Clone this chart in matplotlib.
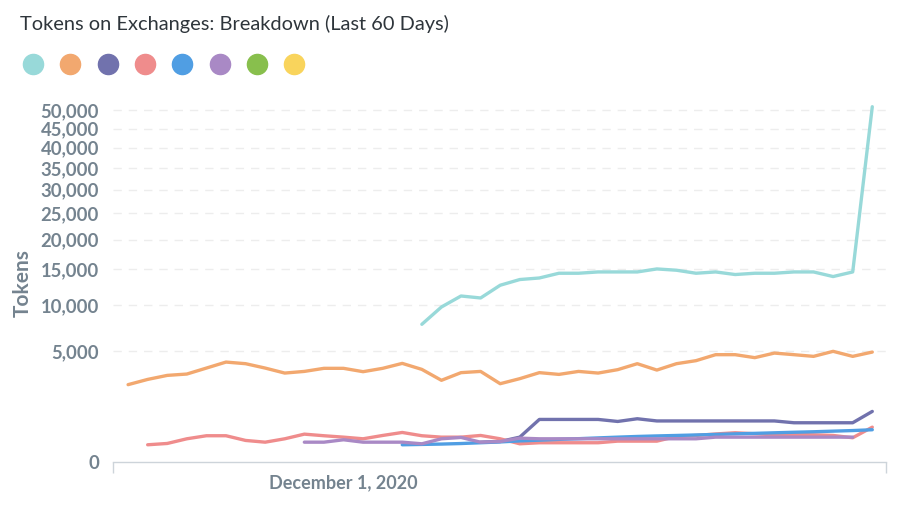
import numpy as np
import pandas as pd
import matplotlib
matplotlib.use("Agg")
import matplotlib.pyplot as plt
import matplotlib.dates as mdates
from matplotlib.lines import Line2D
from matplotlib.ticker import FuncFormatter, FixedLocator

plt.rcParams['font.family'] = ['Lato', 'DejaVu Sans']

# ---- data ----
dates = pd.date_range("2020-11-20", periods=39, freq="D")
nan = np.nan

cyan_vals = [nan] * 15 + [7670, 9720, 11150, 10885, 12640, 13470, 13700, 14415, 14415, 14615,
                          14615, 14615, 15080, 14880, 14415, 14615, 14220, 14415, 14415, 14615,
                          14615, 13915, 14615, 51070]
orange_vals = [2420, 2760, 3035, 3130, 3570, 4040, 3910, 3570, 3200, 3320, 3550, 3550, 3300,
               3550, 3935, 3470, 2700, 3230, 3320, 2480, 2810, 3230, 3105, 3320, 3200, 3450,
               3910, 3420, 3910, 4155, 4660, 4660, 4405, 4800, 4660, 4515, 4955, 4515, 4890]
darkpurple_vals = [nan] * 18 + [159, 170, 250, 733, 733, 733, 733, 665, 757, 682, 682, 682, 682,
                                682, 682, 682, 623, 623, 623, 623, 1035]
red_vals = [nan] + [120, 139, 218, 279, 279, 188, 159, 218, 314, 279, 250, 218, 285, 353, 279,
                    250, 250, 285, 218, 134, 150, 150, 150, 150, 176, 176, 176, 264, 285, 318,
                    346, 323, 300, 307, 300, 285, 238, 491]
blue_vals = [nan] * 14 + [120, 125, 130, 138, 150, 163, 180, 193, 207, 220, 235, 250, 264, 275,
                          285, 296, 307, 320, 332, 345, 358, 370, 385, 400, 421]
purple_vals = [nan] * 9 + [159, 159, 200, 159, 159, 159, 134, 218, 244, 159, 170, 230,
                           218, 218, 218, 218, 218, 218, 218, 218, 218,
                           250, 250, 250, 250, 250, 250, 250, 250] + [nan]
green_vals = [nan] * 39
yellow_vals = [nan] * 39

series = [
    ("Series 1", cyan_vals, "#98D9D9"),
    ("Series 2", orange_vals, "#F2A86F"),
    ("Series 3", darkpurple_vals, "#7172AD"),
    ("Series 4", red_vals, "#EF8C8C"),
    ("Series 5", blue_vals, "#509EE3"),
    ("Series 6", purple_vals, "#A989C5"),
    ("Series 7", green_vals, "#88BF4D"),
    ("Series 8", yellow_vals, "#F9D45C"),
]

y_ticks = [0, 5000, 10000, 15000, 20000, 25000, 30000, 35000, 40000, 45000, 50000]
x_tick_dates = [pd.Timestamp("2020-12-01")]
x_tick_labels = ["December 1, 2020"]

# ---- figure ----
fig = plt.figure(figsize=(9.12, 5.11), dpi=100)
W, H = 912, 511
ax_left, ax_right, ax_bottom, ax_top = 113, 886, 462, 103.5
ax = fig.add_axes([ax_left / W, 1 - ax_bottom / H, (ax_right - ax_left) / W, (ax_bottom - ax_top) / H])

for name, vals, col in series:
    ax.plot(dates, vals, color=col, lw=2.4, solid_joinstyle='round', solid_capstyle='round', label=name)

ax.set_yscale('function', functions=(lambda v: np.sqrt(np.maximum(v, 0)), lambda v: np.square(v)))
ax.set_ylim(0, 52000)
ax.yaxis.set_major_locator(FixedLocator(y_ticks))
ax.yaxis.set_minor_locator(FixedLocator([]))
ax.yaxis.set_major_formatter(FuncFormatter(lambda v, p: f"{int(v):,}"))

x0 = dates[0] - pd.Timedelta(hours=0.77 * 24)
x1 = dates[0] + pd.Timedelta(hours=38.7 * 24)
ax.set_xlim(x0, x1)
ax.set_xticks(x_tick_dates)
ax.set_xticklabels(x_tick_labels)
ax.set_xticks([mdates.date2num(x0), mdates.date2num(x1)], minor=True)

label_col = "#74838F"
ax.tick_params(axis='y', length=0, pad=10, labelsize=13.3, labelcolor=label_col)
ax.tick_params(axis='x', which='major', length=0, pad=9, labelsize=13, labelcolor=label_col)
ax.tick_params(axis='x', which='minor', length=8, width=1, color="#CDD4DA", direction='out')
for lab in ax.get_yticklabels() + ax.get_xticklabels():
    lab.set_fontweight('bold')

for v in y_ticks[1:]:
    ax.axhline(v, color="#EDEDED", lw=1, ls=(0, (6, 5)), zorder=0)

for s in ['top', 'right', 'left']:
    ax.spines[s].set_visible(False)
ax.spines['bottom'].set_color("#CDD4DA")
ax.spines['bottom'].set_linewidth(1)

ax.set_ylabel("Tokens", fontsize=15, fontweight='bold', color=label_col)
ax.yaxis.set_label_coords((33 - ax_left) / (ax_right - ax_left), 0.5)

fig.text(20 / W, 1 - 24 / H, "Tokens on Exchanges: Breakdown (Last 60 Days)", fontsize=14.4,
         color="#2E353B", ha='left', va='center')

handles = [Line2D([], [], ls='none', marker='o', markersize=14.5, markerfacecolor=c,
                  markeredgecolor=c) for _, _, c in series]
fig.legend(handles, [''] * len(handles), loc='center left',
           bbox_to_anchor=(26 / W, 1 - 65 / H), bbox_transform=fig.transFigure,
           ncol=len(handles), frameon=False, fontsize=10, handlelength=1.0,
           handletextpad=0, columnspacing=1.69, borderpad=0, borderaxespad=0)

fig.savefig("out.png", dpi=100)
